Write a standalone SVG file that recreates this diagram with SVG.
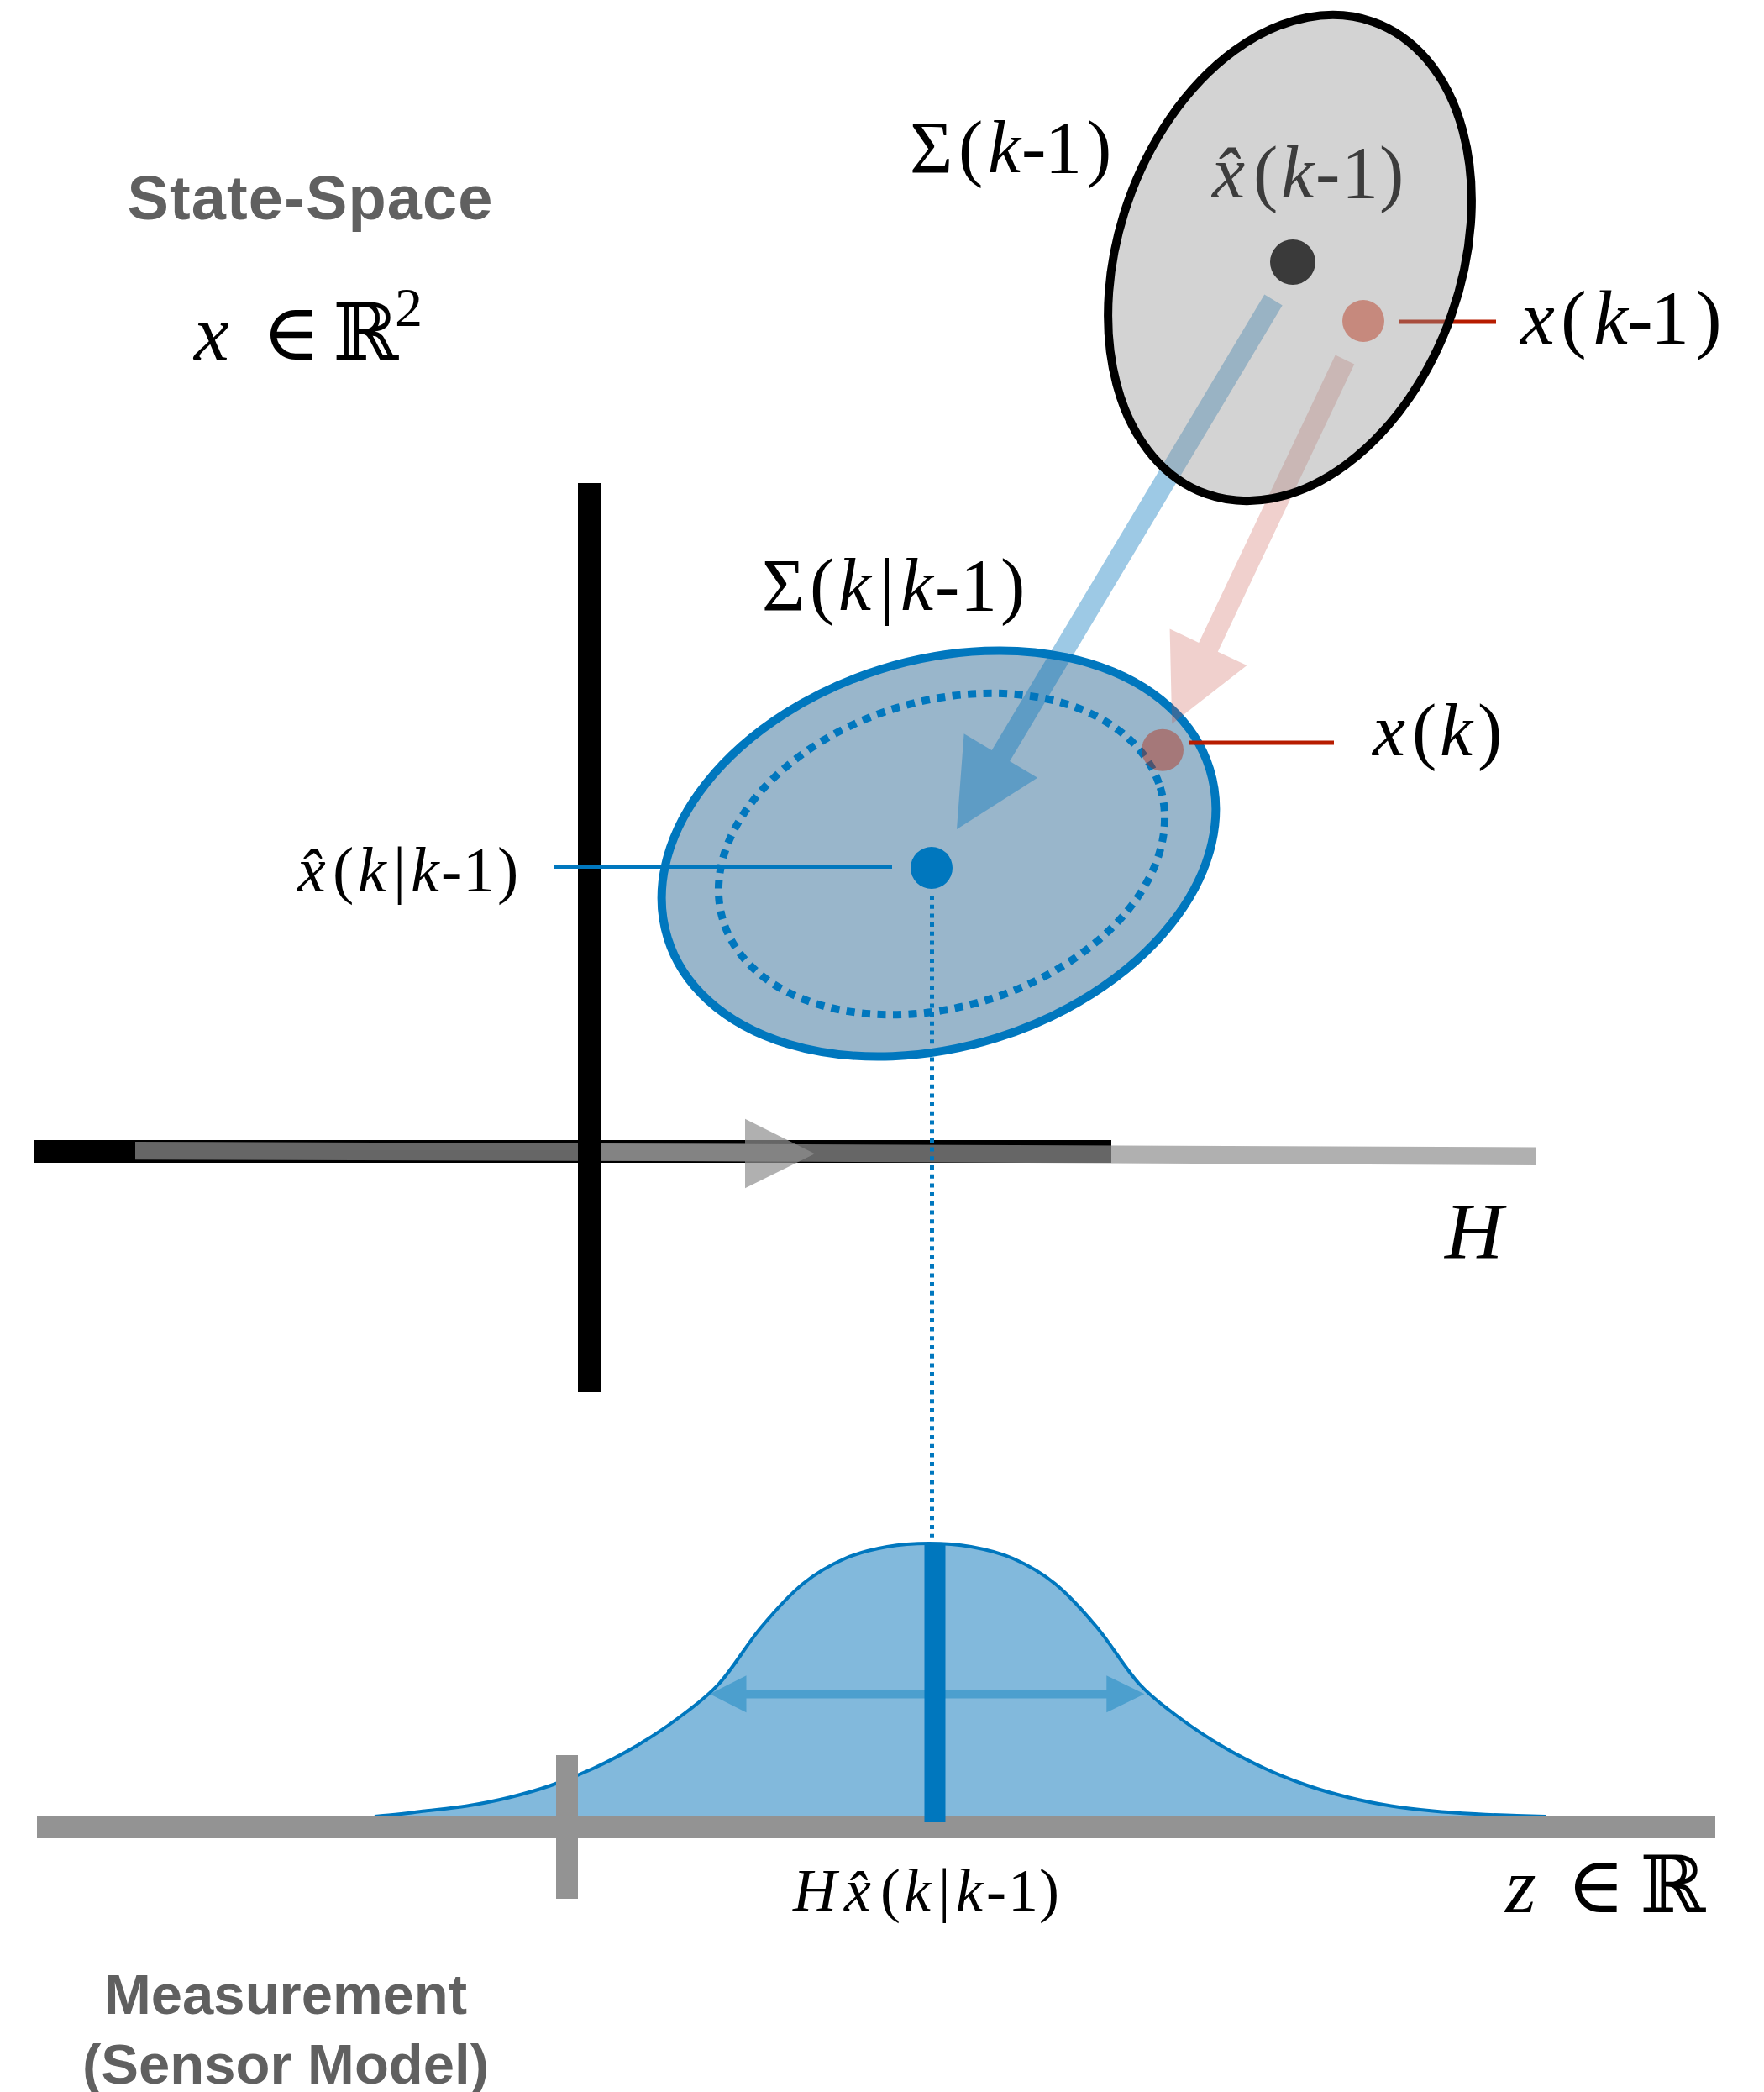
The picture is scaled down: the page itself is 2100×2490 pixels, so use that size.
<svg xmlns="http://www.w3.org/2000/svg" width="2100" height="2490" viewBox="0 0 2100 2490">
<style>
.m{font-family:"Liberation Serif","DejaVu Serif","DejaVu Sans",serif;font-size:88px;fill:#000}
.i{font-style:italic}
.lbl{font-family:"Liberation Sans",Arial,sans-serif;font-weight:bold;fill:#606060;text-anchor:middle}
.grayop{fill:#909090;fill-opacity:0.71}
</style>
<defs>
<path id="gcurve" d="M446,2162 L456,2161 C472.7,2160.1 489.3,2157.4 506,2155.5 C522.7,2153.6 539.3,2152.2 556,2149.5 C572.7,2146.8 589.3,2143.6 606,2139.5 C622.7,2135.4 639.3,2130.8 656,2125 C672.7,2119.3 689.3,2112.7 706,2105 C722.7,2097.3 739.3,2088.8 756,2079 C772.7,2069.2 789.3,2058.5 806,2046 C822.7,2033.5 839.3,2022.2 856,2004 C872.7,1985.8 889.3,1956.8 906,1937 C922.7,1917.2 939.3,1898.7 956,1885 C972.7,1871.3 989.3,1862.3 1006,1855 C1022.7,1847.7 1039.3,1844 1056,1841 C1072.7,1838 1089.3,1837 1106,1837 C1122.7,1837 1139.3,1838 1156,1841 C1172.7,1844 1189.3,1847.7 1206,1855 C1222.7,1862.3 1239.3,1871.3 1256,1885 C1272.7,1898.7 1289.3,1917.2 1306,1937 C1322.7,1956.8 1339.3,1985.8 1356,2004 C1372.7,2022.2 1389.3,2033.5 1406,2046 C1422.7,2058.5 1439.3,2069.2 1456,2079 C1472.7,2088.8 1489.3,2097.3 1506,2105 C1522.7,2112.7 1539.3,2119.3 1556,2125 C1572.7,2130.8 1589.3,2135.4 1606,2139.5 C1622.7,2143.6 1639.3,2146.8 1656,2149.5 C1672.7,2152.2 1689.3,2153.9 1706,2155.5 C1722.7,2157.1 1739.3,2158.1 1756,2159 C1772.7,2159.9 1789.3,2160.7 1806,2161 L1840,2162"/>
</defs>
<rect width="2100" height="2490" fill="#fff"/>

<g id="measurement-gaussian">
<use href="#gcurve" fill="#82b9dc" stroke="none"/>
<use href="#gcurve" fill="none" stroke="#0077be" stroke-width="4"/>
</g>

<g id="measurement-axis">
<rect x="44" y="2162" width="1998" height="26" fill="#939393"/>
<rect x="662" y="2089" width="26" height="171" fill="#939393"/>
<polygon points="845,2016.3 888.5,1994.3 888.5,2011 1317.3,2011 1317.3,1994.3 1362.5,2016.3 1317.3,2038.3 1317.3,2021.6 888.5,2021.6 888.5,2038.3" fill="#4c9fce"/>
<rect x="1100.5" y="1836" width="25" height="333" fill="#0077be"/>
</g>

<g id="h-axis">
<rect x="40" y="1357" width="1283" height="27" fill="#000"/>
<polygon class="grayop" points="161,1359 887,1361.6 887,1331.7 970,1373.3 887,1414.3 887,1382.3 161,1380.3"/>
<polygon class="grayop" points="700,1361 1829,1365.5 1829,1387 700,1381.5"/>
<rect x="688" y="575" width="27" height="1082" fill="#000"/>
</g>

<g id="predicted-ellipse">
<ellipse cx="1117.5" cy="1016" rx="338" ry="230" transform="rotate(-17.35 1117.5 1016)" fill="#99b6cb" stroke="#0077be" stroke-width="10"/>
<ellipse cx="1121" cy="1016.5" rx="272" ry="182" transform="rotate(-16.9 1121 1016.5)" fill="none" stroke="#0077be" stroke-width="9" stroke-dasharray="10 8.5"/>
</g>

<g id="connectors">
<polygon points="1526.7,363.4 1202.1,905.9 1235.2,925.7 1139,987 1147.6,873.3 1180.7,893.1 1505.3,350.6" fill="rgb(0,115,187)" fill-opacity="0.386"/>
<polygon points="1612.3,433.4 1449.8,775.7 1484.4,792.1 1395.2,861.5 1392.6,748.5 1427.2,764.9 1589.7,422.6" fill="rgb(199,81,70)" fill-opacity="0.27"/>
<line x1="1109.5" y1="1066" x2="1109.5" y2="1836" stroke="#0077be" stroke-width="5" stroke-dasharray="5 5.7"/>
<line x1="659" y1="1032" x2="1062" y2="1032" stroke="#0077be" stroke-width="4"/>
<line x1="1666" y1="383" x2="1781" y2="383" stroke="#b71c00" stroke-width="5"/>
<line x1="1415" y1="884" x2="1588" y2="884" stroke="#b71c00" stroke-width="5"/>
</g>

<g id="prior-ellipse">
<ellipse cx="1535.5" cy="307" rx="204" ry="298" transform="rotate(19.4 1535.5 307)" fill="#949494" fill-opacity="0.41" stroke="#000" stroke-width="10"/>
<circle cx="1539" cy="312" r="27" fill="#3a3a3a"/>
<circle cx="1623" cy="382" r="25" fill="rgb(180,36,7)" fill-opacity="0.42"/>
<text class="m" y="235" style="fill:#3c3c3c"><tspan class="i" x="1443">x&#x302;</tspan><tspan x="1492">(</tspan><tspan class="i" x="1525">k</tspan><tspan x="1566">-</tspan><tspan x="1597">1</tspan><tspan x="1642">)</tspan></text>
</g>

<g id="predicted-points">
<circle cx="1384" cy="892.7" r="25" fill="rgb(180,36,7)" fill-opacity="0.42"/>
<circle cx="1109" cy="1033" r="25" fill="#0077be"/>
</g>

<g id="labels">
<text class="lbl" x="369" y="261" font-size="74" textLength="435" lengthAdjust="spacing">State-Space</text>
<text class="m" y="428" style="font-size:94px"><tspan class="i" x="231">x</tspan><tspan x="312">∈</tspan><tspan x="396">ℝ</tspan><tspan x="470" y="388" style="font-size:66px">2</tspan></text>
<text class="m" y="205"><tspan x="1083">Σ</tspan><tspan x="1141">(</tspan><tspan class="i" x="1176">k</tspan><tspan x="1216">-</tspan><tspan x="1244">1</tspan><tspan x="1294">)</tspan></text>
<text class="m" y="409" style="font-size:92px"><tspan class="i" x="1810">x</tspan><tspan x="1858">(</tspan><tspan class="i" x="1897">k</tspan><tspan x="1937">-</tspan><tspan x="1965">1</tspan><tspan x="2019">)</tspan></text>
<text class="m" y="726"><tspan x="907">Σ</tspan><tspan x="964">(</tspan><tspan class="i" x="998">k</tspan><tspan x="1047">|</tspan><tspan class="i" x="1072">k</tspan><tspan x="1113">-</tspan><tspan x="1143">1</tspan><tspan x="1191">)</tspan></text>
<text class="m" y="899"><tspan class="i" x="1634">x</tspan><tspan x="1681">(</tspan><tspan class="i" x="1714">k</tspan><tspan x="1759">)</tspan></text>
<text class="m" y="1061" style="font-size:76px"><tspan class="i" x="354">x&#x302;</tspan><tspan x="396">(</tspan><tspan class="i" x="426">k</tspan><tspan x="468">|</tspan><tspan class="i" x="489">k</tspan><tspan x="525">-</tspan><tspan x="551">1</tspan><tspan x="592">)</tspan></text>
<text class="m i" x="1720" y="1498" style="font-size:96px">H</text>
<text class="m" y="2274" style="font-size:72px"><tspan class="i" x="944">H</tspan><tspan class="i" x="1005">x&#x302;</tspan><tspan x="1048">(</tspan><tspan class="i" x="1076">k</tspan><tspan x="1117">|</tspan><tspan class="i" x="1138">k</tspan><tspan x="1174">-</tspan><tspan x="1200">1</tspan><tspan x="1237">)</tspan></text>
<text class="m" y="2276" style="font-size:94px"><tspan class="i" x="1792">z</tspan><tspan x="1865">∈</tspan><tspan x="1952">ℝ</tspan></text>
<text class="lbl" x="340" y="2397" font-size="67">Measurement</text>
<text class="lbl" x="340" y="2480" font-size="67">(Sensor Model)</text>
</g>
</svg>
